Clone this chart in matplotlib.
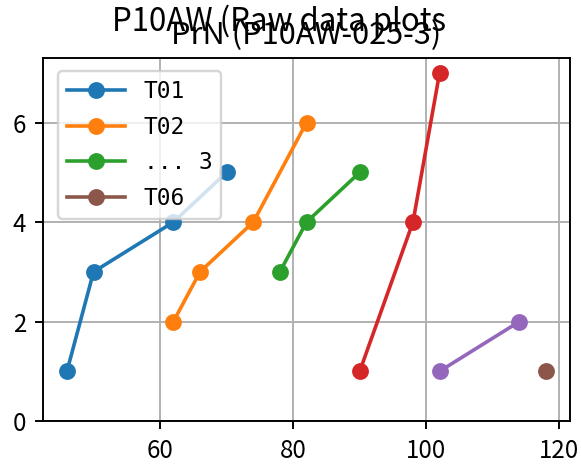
import matplotlib
matplotlib.use("Agg")
import matplotlib.pyplot as plt

plt.rcParams['font.family'] = ['Noto Sans CJK JP', 'DejaVu Sans']

series_labels = ["T01", "T02", "... 3", "_T04", "_T05", "T06"]
series_x = [
    [46, 50, 62, 70],
    [62, 66, 74, 82],
    [78, 82, 90],
    [90, 98, 102],
    [102, 114],
    [118],
]
series_y = [
    [1, 3, 4, 5],
    [2, 3, 4, 6],
    [3, 4, 5],
    [1, 4, 7],
    [1, 2],
    [1],
]
suptitle_text = "P10AW (Raw data plots"
title_text = "PrN (P10AW-025-3)"

DPI = 173
fig = plt.figure(figsize=(581 / DPI, 464 / DPI), dpi=DPI)
ax = fig.add_axes([43 / 581, 43 / 464, (570 - 43) / 581, (421 - 58) / 464])

for xs, ys, lab in zip(series_x, series_y, series_labels):
    ax.plot(xs, ys, marker='o', label=lab)

ax.set_ylim(bottom=0)
ax.grid(True)
ax.legend(loc='upper left', bbox_to_anchor=(15 / 527, 1 - 13 / 363),
          borderaxespad=0, prop={'family': 'DejaVu Sans Mono', 'size': 9.5},
          handlelength=2.55, labelspacing=0.55)
ax.set_title(title_text, fontsize=12.8)
fig.suptitle(suptitle_text, x=279 / 581, y=0.99, fontsize=13)

fig.savefig("out.png", dpi=DPI)
